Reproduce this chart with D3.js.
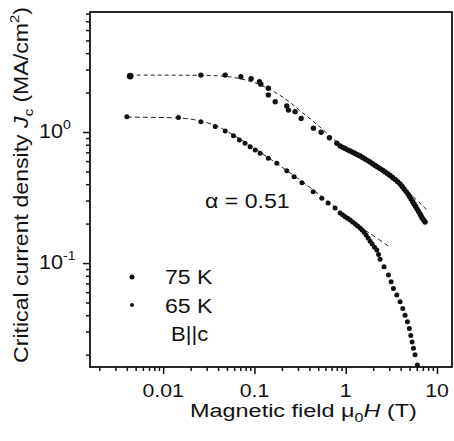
<!DOCTYPE html>
<html>
<head>
<meta charset="utf-8">
<script src="https://cdn.jsdelivr.net/npm/d3@7"></script>
<style>
body { margin: 0; background: #fff; }
text { font-family: "Liberation Sans", Arial, sans-serif; fill: #111; }
</style>
</head>
<body>
<script>
// field (T) and Jc (MA/cm2)
field65 = [0.00435, 0.0259, 0.0478, 0.071, 0.092, 0.1135, 0.1175, 0.142, 0.142, 0.169, 0.226, 0.236, 0.279, 0.325, 0.443, 0.538, 0.663, 0.80, 0.869, 0.925, 0.985, 1.049, 1.117, 1.19, 1.267, 1.35, 1.438, 1.53, 1.63, 1.74, 1.85, 1.97, 2.10, 2.23, 2.38, 2.54, 2.70, 2.88, 3.07, 3.26, 3.48, 3.70, 3.94, 4.15, 4.36, 4.59, 4.82, 5.01, 5.20, 5.41, 5.61, 5.83, 6.05, 6.28, 6.53, 6.70, 6.87, 7.13, 7.41]
jc65 = [2.67, 2.72, 2.72, 2.64, 2.55, 2.42, 2.32, 2.16, 1.92, 1.70, 1.58, 1.47, 1.43, 1.27, 1.07, 0.995, 0.905, 0.82, 0.782, 0.764, 0.748, 0.731, 0.716, 0.700, 0.685, 0.670, 0.656, 0.639, 0.622, 0.605, 0.590, 0.573, 0.555, 0.541, 0.526, 0.511, 0.495, 0.481, 0.466, 0.450, 0.434, 0.418, 0.401, 0.384, 0.367, 0.351, 0.336, 0.322, 0.308, 0.295, 0.282, 0.270, 0.258, 0.247, 0.237, 0.229, 0.221, 0.213, 0.206]

field75 = [0.0040, 0.0147, 0.0259, 0.0372, 0.0478, 0.0589, 0.0685, 0.079, 0.0897, 0.102, 0.1155, 0.142, 0.176, 0.226, 0.272, 0.331, 0.44, 0.547, 0.641, 0.765, 0.869, 0.925, 0.985, 1.049, 1.12, 1.19, 1.27, 1.35, 1.44, 1.51, 1.59, 1.67, 1.76, 1.85, 1.95, 2.07, 2.19, 2.29, 2.38, 2.63, 2.94, 3.14, 3.33, 3.63, 3.94, 4.22, 4.47, 4.74, 4.98, 5.16, 5.34, 5.52, 5.75, 6.1]
jc75 = [1.31, 1.29, 1.20, 1.10, 1.02, 0.937, 0.869, 0.82, 0.773, 0.729, 0.688, 0.63, 0.577, 0.507, 0.456, 0.410, 0.35, 0.313, 0.287, 0.263, 0.241, 0.234, 0.226, 0.220, 0.213, 0.206, 0.199, 0.192, 0.185, 0.179, 0.172, 0.164, 0.155, 0.147, 0.140, 0.132, 0.126, 0.116, 0.107, 0.0937, 0.081, 0.072, 0.064, 0.057, 0.0507, 0.045, 0.040, 0.0356, 0.0317, 0.028, 0.025, 0.0224, 0.020, 0.0167]

// dashed fit curves
fit65B = [0.0043, 0.026, 0.048, 0.07, 0.1, 0.15, 0.22, 0.33, 0.5, 0.8, 1.2, 2, 3, 5, 7.7]
fit65J = [2.72, 2.71, 2.66, 2.55, 2.38, 2.10, 1.78, 1.42, 1.12, 0.84, 0.69, 0.55, 0.45, 0.34, 0.255]
fit75B = [0.004, 0.015, 0.026, 0.04, 0.06, 0.1, 0.2, 0.4, 0.7, 1.2, 1.55, 2, 2.92]
fit75J = [1.30, 1.28, 1.21, 1.10, 0.94, 0.75, 0.54, 0.38, 0.28, 0.205, 0.182, 0.162, 0.135]

xTicks = [0.01, 0.1, 1, 10]
xTickLabels = ["0.01", "0.1", "1", "10"]
yTicks = [0.1, 1]
yTickExp = ["-1", "0"]
legendLabels = ["75 K", "65 K"]

margin = {top: 12, right: 2, bottom: 74, left: 90}
width = 454
height = 441

x = d3.scaleLog()
	.domain([0.00158, 14.6])
	.range([margin.left, width - margin.right])

y = d3.scaleLog()
	.domain([0.0161, 8.24])
	.range([height - margin.bottom, margin.top])

var svg = d3.select("body").append("svg")
	.attr("width", width)
	.attr("height", height)

// minor + major ticks, pointing outward
var xMinor = x.ticks().filter(v => !xTicks.some(t => Math.abs(t - v) / t < 1e-6))
var yMinor = y.ticks().filter(v => !yTicks.some(t => Math.abs(t - v) / t < 1e-6))

svg.append("g")
	.attr("transform", "translate(0," + (height - margin.bottom) + ")")
	.call(d3.axisBottom(x).tickValues(xMinor).tickSize(4).tickFormat(""))
	.call(g => g.select(".domain").remove())
svg.append("g")
	.attr("transform", "translate(0," + (height - margin.bottom) + ")")
	.call(d3.axisBottom(x).tickValues(xTicks).tickSize(7).tickFormat(""))
	.call(g => g.select(".domain").remove())
svg.append("g")
	.attr("transform", "translate(" + margin.left + ",0)")
	.call(d3.axisLeft(y).tickValues(yMinor).tickSize(4).tickFormat(""))
	.call(g => g.select(".domain").remove())
svg.append("g")
	.attr("transform", "translate(" + margin.left + ",0)")
	.call(d3.axisLeft(y).tickValues(yTicks).tickSize(7).tickFormat(""))
	.call(g => g.select(".domain").remove())
svg.selectAll(".tick line").attr("stroke", "#111").attr("stroke-width", 1.5)

// frame
svg.append("rect")
	.attr("x", margin.left)
	.attr("y", margin.top)
	.attr("width", width - margin.left - margin.right)
	.attr("height", height - margin.bottom - margin.top)
	.attr("fill", "none")
	.attr("stroke", "#111")
	.attr("stroke-width", 1.8)

// x tick labels (the print is a bit wide, so stretch the glyphs)
xTicks.forEach((v, i) => {
	svg.append("text")
		.attr("text-anchor", "middle")
		.attr("font-size", 18.5)
		.attr("transform", "translate(" + x(v) + "," + (height - margin.bottom + 30) + ") scale(1.15,1)")
		.text(xTickLabels[i])
})

// y tick labels 10^n
yTicks.forEach((v, i) => {
	var t = svg.append("text")
		.attr("font-size", 20)
		.attr("transform", "translate(39," + (y(v) + 6) + ") scale(1.08,1)")
	t.append("tspan").text("10")
	t.append("tspan").attr("font-size", 13).attr("dy", -9).text(yTickExp[i])
})

// fits
var line = d3.line()
	.x(d => x(d[0]))
	.y(d => y(d[1]))
	.curve(d3.curveMonotoneX)

svg.append("path")
	.attr("d", line(fit65B.map((b, i) => [b, fit65J[i]])))
	.attr("fill", "none")
	.attr("stroke", "#222")
	.attr("stroke-width", 1)
	.attr("stroke-dasharray", "4,3")
svg.append("path")
	.attr("d", line(fit75B.map((b, i) => [b, fit75J[i]])))
	.attr("fill", "none")
	.attr("stroke", "#222")
	.attr("stroke-width", 1)
	.attr("stroke-dasharray", "5,3")

// data points
svg.append("g")
	.selectAll("circle")
	.data(field65.map((b, i) => [b, jc65[i]]))
	.join("circle")
	.attr("cx", d => x(d[0]))
	.attr("cy", d => y(d[1]))
	.attr("r", (d, i) => i == 0 ? 3.3 : 2.7)
	.attr("fill", "#111")

svg.append("g")
	.selectAll("circle")
	.data(field75.map((b, i) => [b, jc75[i]]))
	.join("circle")
	.attr("cx", d => x(d[0]))
	.attr("cy", d => y(d[1]))
	.attr("r", 2.5)
	.attr("fill", "#111")

// legend
legendLabels.forEach((s, i) => {
	svg.append("circle")
		.attr("cx", 132)
		.attr("cy", 277 + i * 28)
		.attr("r", i == 0 ? 2.5 : 2.1)
		.attr("fill", "#111")
	svg.append("text")
		.attr("font-size", 21)
		.attr("transform", "translate(165," + (284 + i * 29) + ") scale(1.1,1)")
		.text(s)
})
svg.append("text")
	.attr("font-size", 21)
	.attr("transform", "translate(171,341) scale(1.05,1)")
	.text("B||c")

svg.append("text")
	.attr("font-size", 21)
	.attr("transform", "translate(205,208) scale(1.1,1)")
	.text("\u03b1 = 0.51")

// axis titles, stretched to the width seen in the picture
var xt = svg.append("text").attr("font-size", 19)
xt.append("tspan").text("Magnetic field \u03bc")
xt.append("tspan").attr("font-size", 13).attr("dy", 5).text("0")
xt.append("tspan").attr("dy", -5).attr("font-style", "italic").text("H")
xt.append("tspan").text(" (T)")
var kx = 227 / xt.node().getBBox().width
xt.attr("transform", "translate(190,417) scale(" + kx + ",1)")

var yt = svg.append("text").attr("font-size", 20.5)
yt.append("tspan").text("Critical current density ")
yt.append("tspan").attr("font-style", "italic").text("J")
yt.append("tspan").attr("font-size", 13).attr("dy", 5).text("c")
yt.append("tspan").attr("dy", -5).text(" (MA/cm")
yt.append("tspan").attr("font-size", 13).attr("dy", -9).text("2")
yt.append("tspan").attr("dy", 9).text(")")
var ky = 356 / yt.node().getBBox().width
yt.attr("transform", "translate(28,363) rotate(-90) scale(" + ky + ",1)")
</script>
</body>
</html>
